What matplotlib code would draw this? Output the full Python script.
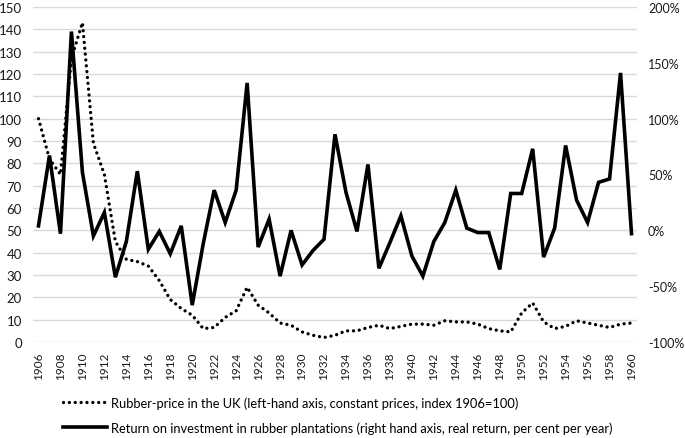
import matplotlib
matplotlib.use("Agg")
import matplotlib.pyplot as plt
from matplotlib.ticker import FuncFormatter, MultipleLocator

years = list(range(1906, 1961))
price_index = [100, 82, 75, 127, 143, 89, 75, 45, 37, 36, 34, 27.5, 19, 15, 12,
               6, 6.5, 11, 14, 24.5, 16.5, 13, 8.5, 7.5, 4.5, 3, 2, 3, 5, 5,
               6.5, 7.5, 6, 7, 8, 8, 7.5, 9.5, 9, 9, 8, 6, 5, 4.5, 13,
               17.5, 9, 6, 7, 9.5, 8.5, 7.5, 6.5, 8, 8.5]
return_pct = [4, 67, -3, 178, 52, -5, 16, -42, -10, 53, -17, -1, -21, 4, -67,
              -12, 36, 7, 36, 132, -15, 10, -41, 0, -31, -18, -8, 86, 34, -1,
              59, -34, -11, 13, -23, -41, -10, 7, 36, 2, -2, -2, -35, 33, 33,
              73, -24, 2, 76, 27, 7, 43, 46, 141, -3]
xtick_years = years[::2]
label_price = "Rubber-price in the UK (left-hand axis, constant prices, index 1906=100)"
label_return = "Return on investment in rubber plantations (right hand axis, real return, per cent per year)"

plt.rcParams['font.family'] = ['Lato', 'DejaVu Sans']

W, H = 685, 439
fig = plt.figure(figsize=(W / 100, H / 100), dpi=100)
ax = fig.add_axes([33 / W, 1 - 343 / H, (637 - 33) / W, (343 - 8) / H])
ax2 = ax.twinx()

(l1,) = ax.plot(years, price_index, color='black', lw=2.4,
                linestyle=(0, (0.01, 1.75)), dash_capstyle='round',
                label=label_price)
(l2,) = ax2.plot(years, return_pct, color='black', lw=2.6,
                 solid_joinstyle='miter', label=label_return)

ax.set_xlim(1905.5, 1960.5)
ax.set_ylim(0, 150)
ax2.set_ylim(-100, 200)
ax.yaxis.set_major_locator(MultipleLocator(10))
ax2.yaxis.set_major_locator(MultipleLocator(50))
ax2.yaxis.set_major_formatter(FuncFormatter(lambda v, p: f"{int(v)}%"))
ax.set_xticks(xtick_years)
ax.set_xticklabels([str(y) for y in xtick_years], rotation=90)

ax.grid(axis='y', color='#d9d9d9', lw=1.0)
ax.set_axisbelow(True)
for a in (ax, ax2):
    for s in a.spines.values():
        s.set_visible(False)
ax.tick_params(axis='y', length=0, pad=8, labelsize=9.5, colors='#1a1a1a')
ax.tick_params(axis='x', length=0, pad=7, labelsize=8.5, colors='#1a1a1a')
ax2.tick_params(axis='y', length=0, pad=8, labelsize=9, colors='#1a1a1a')

fig.legend(handles=[l1, l2], loc='upper left',
           bbox_to_anchor=(63 / W, 1 - 397 / H), frameon=False,
           fontsize=9.3, handlelength=3.4, handletextpad=0.3,
           labelspacing=1.0, borderpad=0, borderaxespad=0)

fig.savefig('out.png', dpi=100)
